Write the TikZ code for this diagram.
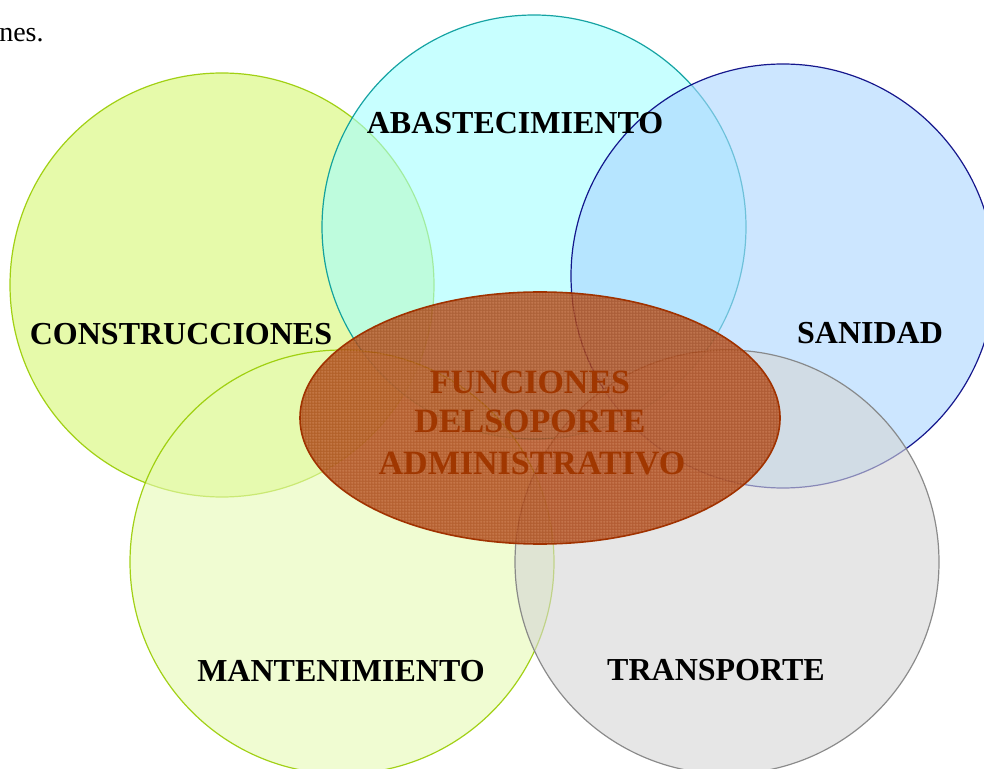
\documentclass[tikz,border=0pt]{standalone}
\usepackage{fontspec}
\setmainfont{Liberation Serif}
\usetikzlibrary{shapes.geometric,patterns}
\definecolor{cfill}{RGB}{213,247,113}
\definecolor{cdraw}{RGB}{153,204,0}
\definecolor{afill}{RGB}{163,255,255}
\definecolor{adraw}{RGB}{0,153,153}
\definecolor{sfill}{RGB}{170,213,255}
\definecolor{sdraw}{RGB}{0,0,128}
\definecolor{mfill}{RGB}{230,250,180}
\definecolor{mdraw}{RGB}{153,204,0}
\definecolor{tfill}{RGB}{213,213,213}
\definecolor{tdraw}{RGB}{128,128,128}
\definecolor{efill}{RGB}{168,64,14}
\definecolor{edraw}{RGB}{160,50,0}
\definecolor{etext}{RGB}{160,55,0}
\definecolor{egrid}{RGB}{228,155,115}
\pgfdeclarepatternformonly{finegrid}{\pgfpointorigin}{\pgfpoint{1.5pt}{1.5pt}}{\pgfpoint{1.5pt}{1.5pt}}{%
  \pgfsetlinewidth{0.4pt}%
  \pgfpathmoveto{\pgfpoint{0pt}{0.75pt}}\pgfpathlineto{\pgfpoint{1.5pt}{0.75pt}}%
  \pgfpathmoveto{\pgfpoint{0.75pt}{0pt}}\pgfpathlineto{\pgfpoint{0.75pt}{1.5pt}}%
  \pgfusepath{stroke}}
\begin{document}
\begin{tikzpicture}[x=0.5pt,y=-0.5pt,
  circ/.style={circle,minimum size=212pt,inner sep=0pt,line width=0.6pt,fill opacity=0.6,draw opacity=0.9},
  lbl/.style={font=\fontsize{16}{19}\selectfont\bfseries,text=black,inner sep=0pt,anchor=base},
  ctr/.style={font=\fontsize{17}{20}\selectfont\bfseries,text=etext,inner sep=0pt}]
\useasboundingbox (0,0) rectangle (984,769);
\node[anchor=base east,inner sep=0pt,font=\fontsize{14}{16}\selectfont] (intro) at (44,42) {nes.};
\node[circ,fill=cfill,draw=cdraw] (cons) at (222,285) {};
\node[circ,fill=afill,draw=adraw] (abas) at (534,227) {};
\node[circ,fill=sfill,draw=sdraw] (sani) at (783,276) {};
\node[circ,fill=mfill,draw=mdraw] (mant) at (342,562) {};
\node[circ,fill=tfill,draw=tdraw] (tran) at (727,562) {};
\node[ellipse,minimum width=240pt,minimum height=126pt,inner sep=0pt,fill=efill,fill opacity=0.82,draw=edraw,line width=0.8pt] (fun) at (540,418) {};
\fill[pattern=finegrid,pattern color=egrid,opacity=0.55] (fun.center) ellipse [x radius=119.5pt,y radius=62.5pt];
\node[lbl] (labA) at (515,134) {ABASTECIMIENTO};
\node[lbl] (labC) at (181,345) {CONSTRUCCIONES};
\node[lbl] (labS) at (870,344) {SANIDAD};
\node[lbl] (labM) at (341,681) {MANTENIMIENTO};
\node[lbl] (labT) at (716,680) {TRANSPORTE};
\node[ctr,anchor=base] (f1) at (530,394) {FUNCIONES};
\node[ctr,anchor=base] (f2) at (530,433) {DELSOPORTE};
\node[ctr,anchor=base] (f3) at (532,474) {ADMINISTRATIVO};
\end{tikzpicture}
\end{document}
